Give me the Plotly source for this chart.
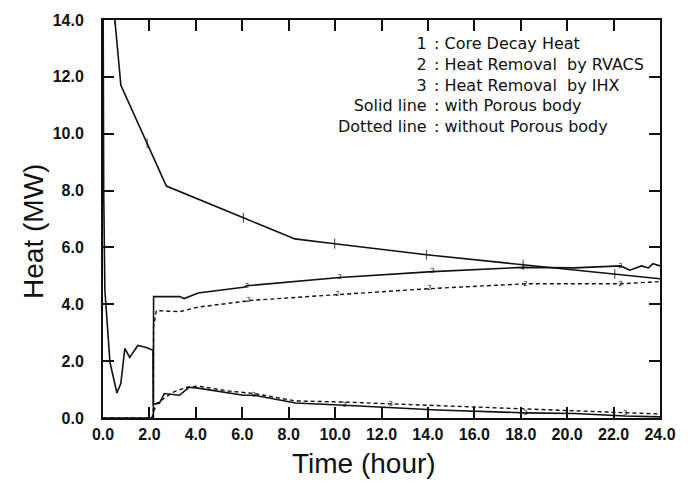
import plotly.graph_objects as go

# Curve 1: core decay heat (MW) vs time (hour)
t_decay = [0.40, 0.51, 0.77, 1.90, 2.73, 6.05, 8.27, 9.98, 13.94, 18.10, 22.05, 24.0]
q_decay = [15.0, 14.0, 11.7, 9.66, 8.16, 7.04, 6.30, 6.13, 5.74, 5.39, 5.07, 4.90]
mark_decay = [0, 1, 0, 1, 0, 1, 0, 1, 1, 1, 1, 0]

# Curve 2: heat removal by RVACS, with porous body (solid)
t_rv_s = [0.0, 2.17, 2.18, 2.30, 3.30, 3.50, 4.10, 6.05, 6.20, 10.2, 14.2, 18.1,
          20.3, 22.3, 22.7, 23.2, 23.5, 23.7, 24.0]
q_rv_s = [0.0, 0.0, 4.27, 4.27, 4.27, 4.20, 4.40, 4.60, 4.65, 4.94, 5.15, 5.30,
          5.28, 5.35, 5.20, 5.35, 5.28, 5.43, 5.35]
lab_rv_s = [0, 0, 0, 0, 0, 0, 0, 0, 1, 1, 1, 1, 0, 1, 0, 0, 0, 0, 0]

# Curve 2: heat removal by RVACS, without porous body (dotted)
t_rv_d = [0.0, 2.17, 2.18, 2.30, 3.30, 4.10, 6.05, 6.27, 10.1, 14.07, 18.2, 22.3, 24.0]
q_rv_d = [0.0, 0.0, 3.20, 3.78, 3.74, 3.90, 4.10, 4.13, 4.34, 4.55, 4.72, 4.72, 4.80]
lab_rv_d = [0, 0, 0, 0, 0, 0, 0, 1, 1, 1, 1, 1, 0]

# Curve 3: heat removal by IHX, with porous body (solid)
t_ihx_s = [0.0, 0.03, 0.08, 0.30, 0.60, 0.77, 0.94, 1.15, 1.50, 1.87, 2.15, 2.17,
           2.43, 2.64, 3.30, 3.70, 4.10, 6.05, 6.50, 8.30, 10.4, 14.4, 18.2,
           20.3, 22.5, 24.0]
q_ihx_s = [16.0, 8.0, 4.5, 1.96, 0.88, 1.22, 2.45, 2.13, 2.55, 2.48, 2.38, 0.49,
           0.52, 0.86, 0.80, 1.08, 1.05, 0.80, 0.80, 0.53, 0.45, 0.28, 0.18,
           0.16, 0.07, 0.04]
lab_ihx_s = [0] * 13 + [0, 0, 0, 0, 0, 1, 0, 1, 0, 1, 0, 0, 0]

# Curve 3: heat removal by IHX, without porous body (dotted)
t_ihx_d = [2.10, 2.30, 3.00, 3.60, 4.10, 5.40, 6.50, 8.30, 10.4, 12.4, 14.4, 18.5, 20.3, 22.5, 24.0]
q_ihx_d = [0.00, 0.50, 0.90, 1.08, 1.12, 0.95, 0.86, 0.60, 0.56, 0.50, 0.42, 0.31, 0.25, 0.18, 0.14]
lab_ihx_d = [0, 0, 0, 0, 0, 0, 0, 0, 0, 1, 0, 0, 0, 1, 0]

x_ticks = [0, 2, 4, 6, 8, 10, 12, 14, 16, 18, 20, 22, 24]
y_ticks = [0, 2, 4, 6, 8, 10, 12, 14]

legend_keys = ["1", "2", "3", "Solid line", "Dotted line"]
legend_desc = [": Core Decay Heat", ": Heat Removal  by RVACS", ": Heat Removal  by IHX",
               ": with Porous body", ": without Porous body"]

INK = "#111111"
SOLID = dict(color=INK, width=1.6)
DOTTED = dict(color=INK, width=1.4, dash="4px,3px")

fig = go.Figure()

fig.add_trace(go.Scatter(
    x=t_decay, y=q_decay, mode="lines+markers", line=SOLID,
    marker=dict(symbol="line-ns-open", size=[7 * m for m in mark_decay],
                line=dict(color=INK, width=1.2), color=INK),
    showlegend=False))


def labelled(t, q, flags, label, line):
    return go.Scatter(
        x=t, y=q, mode="lines+text", line=line,
        text=[label if f else "" for f in flags],
        textposition="middle center",
        textfont=dict(family="DejaVu Sans", size=7, color=INK),
        showlegend=False)


fig.add_trace(labelled(t_rv_s, q_rv_s, lab_rv_s, "2", SOLID))
fig.add_trace(labelled(t_rv_d, q_rv_d, lab_rv_d, "2", DOTTED))
fig.add_trace(labelled(t_ihx_s, q_ihx_s, lab_ihx_s, "3", SOLID))
fig.add_trace(labelled(t_ihx_d, q_ihx_d, lab_ihx_d, "3", DOTTED))

# Key block: right-aligned keys, left-aligned descriptions, colons in one column
PW, PH = 565.0, 400.0
KEY_FONT = dict(family="DejaVu Sans", size=16, color=INK)
block_y = (418 - 83) / PH
fig.add_annotation(x=(434 - 103) / PW, y=block_y, xref="paper", yref="paper",
                   text="<br>".join(legend_keys), align="right",
                   showarrow=False, xanchor="right", yanchor="middle", font=KEY_FONT)
fig.add_annotation(x=(437 - 103) / PW, y=block_y, xref="paper", yref="paper",
                   text="<br>".join(legend_desc), align="left",
                   showarrow=False, xanchor="left", yanchor="middle", font=KEY_FONT)

# Axis titles
fig.add_annotation(x=(368 - 103) / PW, y=(418 - 464) / PH, xref="paper", yref="paper",
                   text="Time (hour)", showarrow=False, xanchor="center", yanchor="middle",
                   font=dict(family="Liberation Sans", size=28, color=INK))
fig.add_annotation(x=(33 - 103) / PW, y=(418 - 230) / PH, xref="paper", yref="paper",
                   text="Heat (MW)", showarrow=False, textangle=-90,
                   xanchor="center", yanchor="middle",
                   font=dict(family="Liberation Sans", size=28, color=INK))

axis_common = dict(
    showline=True, linewidth=2, linecolor=INK, mirror="ticks",
    ticks="inside", ticklen=11, tickwidth=1.5, tickcolor=INK,
    showgrid=False, zeroline=False, tickformat=".1f",
    tickfont=dict(family="Liberation Sans", size=16, color=INK, weight="bold"),
)

fig.update_xaxes(range=[0, 24], tickvals=x_ticks, ticklabelstandoff=1, **axis_common)
fig.update_yaxes(range=[0, 14], tickvals=y_ticks, ticklabelstandoff=14, **axis_common)

fig.update_layout(
    width=688, height=493,
    margin=dict(l=103, r=20, t=18, b=75),
    paper_bgcolor="white", plot_bgcolor="white",
    showlegend=False,
)

fig.write_html("out.html")
